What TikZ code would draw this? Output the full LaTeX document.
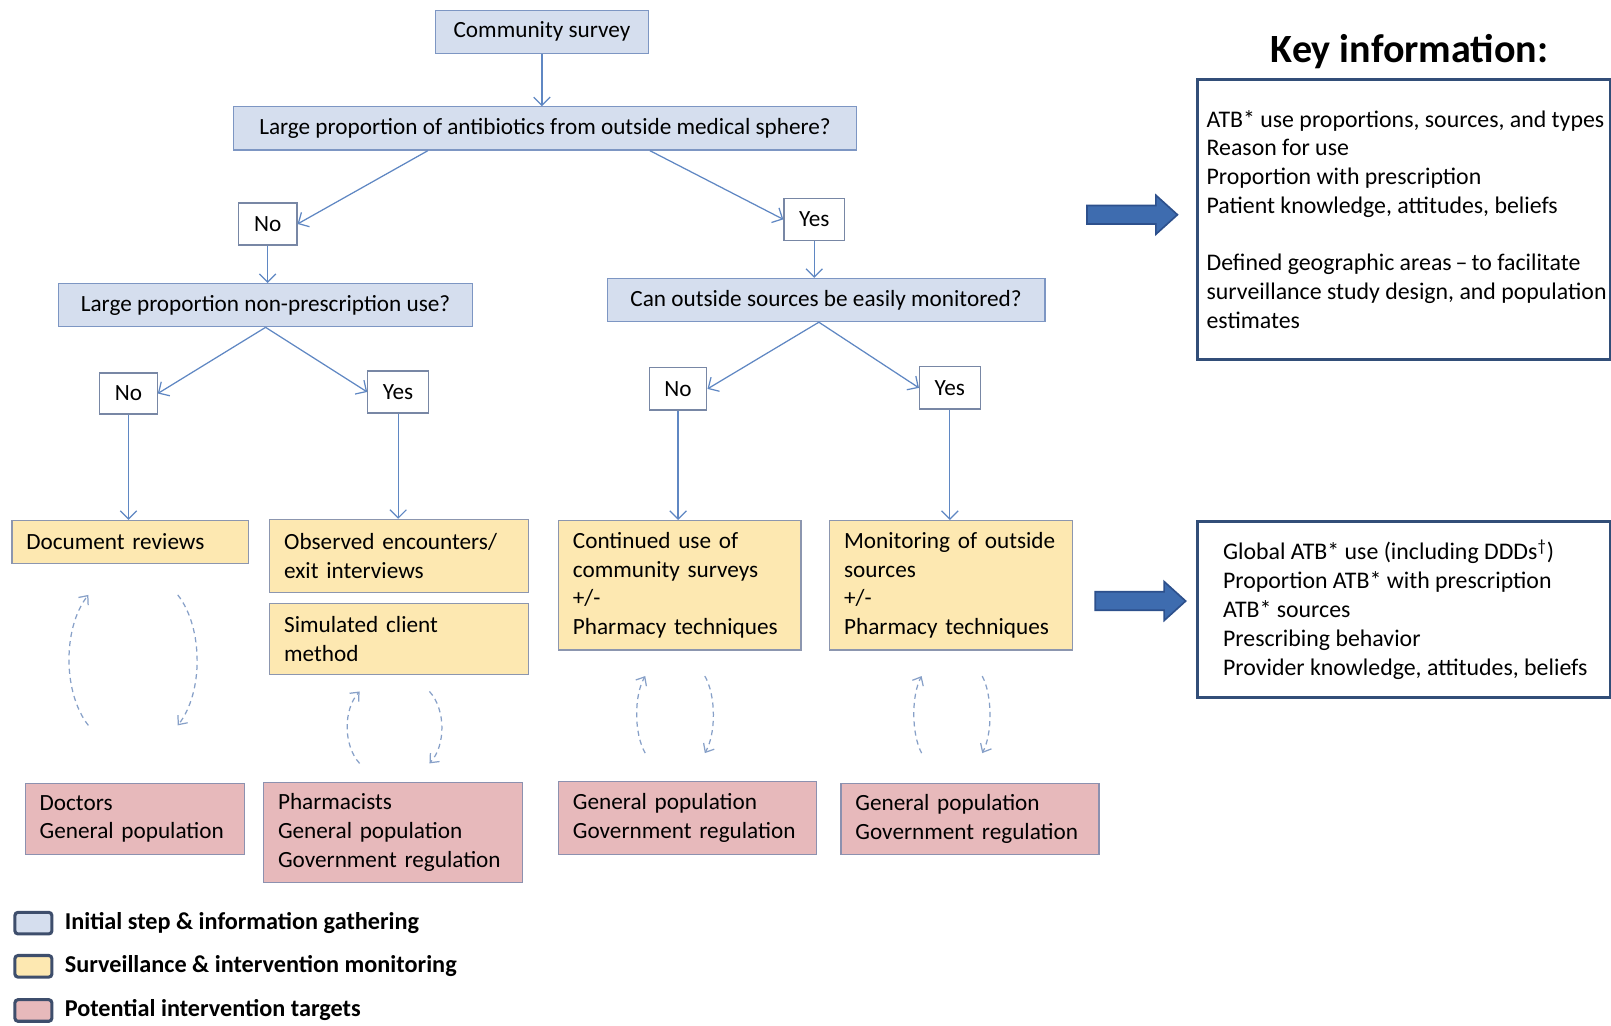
\documentclass[tikz,border=0pt]{standalone}
\usepackage{fontspec}
\setmainfont{Carlito}
\usepackage{xcolor}
\usepackage{tikz}
\usetikzlibrary{positioning,arrows.meta}

\definecolor{initfill}{RGB}{213,222,238}
\definecolor{initline}{RGB}{125,150,195}
\definecolor{ansline}{RGB}{120,135,165}
\definecolor{monfill}{RGB}{253,232,177}
\definecolor{monline}{RGB}{140,150,175}
\definecolor{tarfill}{RGB}{231,185,187}
\definecolor{tarline}{RGB}{140,145,175}
\definecolor{connblue}{RGB}{95,135,195}
\definecolor{dashblue}{RGB}{135,160,200}
\definecolor{arrowfill}{RGB}{62,108,175}
\definecolor{arrowline}{RGB}{45,80,140}
\definecolor{keyline}{RGB}{50,78,120}
\definecolor{legline}{RGB}{62,78,108}

\newcommand{\boxfont}{\fontsize{11.3}{14}\selectfont}
\newcommand{\keyfont}{\fontsize{11.6}{14}\selectfont}

\begin{document}
\begin{tikzpicture}[x=0.5pt, y=-0.5pt, font=\boxfont, >={Straight Barb[length=4pt,width=8pt]}]
    \tikzstyle{initial} = [rectangle, draw=initline, fill=initfill, line width=0.6pt, minimum height=21pt, text centered]
    \tikzstyle{answer} = [rectangle, draw=ansline, fill=white, line width=0.6pt, minimum width=28.5pt, minimum height=20.5pt]
    \tikzstyle{monitor} = [rectangle, draw=monline, fill=monfill, line width=0.6pt, anchor=north west, align=left, inner xsep=7pt]
    \tikzstyle{target} = [rectangle, draw=tarline, fill=tarfill, line width=0.6pt, anchor=north west, align=left, inner xsep=7pt]
    \tikzstyle{keybox} = [rectangle, draw=keyline, line width=1.5pt, anchor=north west, minimum width=201pt]
    \tikzstyle{keytext} = [anchor=west, align=left, inner sep=0pt, font=\keyfont]
    \tikzstyle{conn} = [->, draw=connblue, line width=0.6pt]
    \tikzstyle{cycarrow} = [->, draw=dashblue, line width=0.6pt, dash pattern=on 2.5pt off 2pt, >={Straight Barb[length=3.5pt,width=6pt]}]
    \tikzstyle{bigarrow} = [fill=arrowfill, draw=arrowline, line width=0.8pt]
    \tikzstyle{legbox} = [rectangle, rounded corners=1.5pt, draw=legline, line width=1.5pt, minimum width=18pt, minimum height=10.5pt]
    \tikzstyle{legtext} = [font=\fontsize{11.8}{13}\selectfont\bfseries]

    \useasboundingbox[fill=white] (0,0) rectangle (1568,998);

    % Decision tree
    \node [initial, minimum width=103.5pt] (survey) at (527.5,31) {Community survey};
    \node [initial, minimum width=303.5pt] (outside) at (530.5,125) {Large proportion of antibiotics from outside medical sphere?};
    \node [answer] (noA) at (260.5,218) {No};
    \node [answer, minimum width=29.5pt] (yesA) at (792.5,213.5) {Yes};
    \node [initial, minimum width=201.5pt] (nonpresc) at (258.5,297) {Large proportion non-prescription use?};
    \node [initial, minimum width=213pt] (monitored) at (804,292) {Can outside sources be easily monitored?};
    \node [answer, minimum width=28pt, minimum height=20pt] (noB) at (125,383) {No};
    \node [answer, minimum width=29.5pt] (yesB) at (387.5,381.5) {Yes};
    \node [answer, minimum width=28pt] (noC) at (660,378.5) {No};
    \node [answer, minimum width=29.5pt] (yesC) at (924.5,377.5) {Yes};

    % Surveillance methods
    \node [monitor, text width=101pt, minimum height=21pt] (docrev) at (11,506) {Document reviews};
    \node [monitor, text width=112pt, minimum height=35.5pt] (observed) at (262,505) {Observed encounters/\\exit interviews};
    \node [monitor, text width=112pt, minimum height=34.5pt] (simclient) at (262,587) {Simulated client\\method};
    \node [monitor, text width=104pt, minimum height=63pt] (contsurvey) at (543,506) {Continued use of\\community surveys\\+/-\\Pharmacy techniques};
    \node [monitor, text width=104pt, minimum height=63pt] (monsources) at (807,506) {Monitoring of outside\\sources\\+/-\\Pharmacy techniques};

    % Intervention targets
    \node [target, text width=92.5pt, minimum height=34.5pt] (doctors) at (24,762) {Doctors\\General population};
    \node [target, text width=112pt, minimum height=48.5pt] (pharmacists) at (256,761) {Pharmacists\\General population\\Government regulation};
    \node [target, text width=111.5pt, minimum height=35.5pt] (genpopA) at (543,760) {General population\\Government regulation};
    \node [target, text width=111.5pt, minimum height=34.5pt] (genpopB) at (818,762) {General population\\Government regulation};

    % Connections
    \draw [conn] (survey) -- (survey |- outside.north);
    \draw [conn] ([xshift=-57pt]outside.south) -- (noA.east);
    \draw [conn] ([xshift=51pt]outside.south) -- (yesA.west);
    \draw [conn] (noA) -- (noA |- nonpresc.north);
    \draw [conn] (yesA) -- (yesA |- monitored.north);
    \draw [conn] (nonpresc.south) -- (noB.east);
    \draw [conn] (nonpresc.south) -- (yesB.west);
    \draw [conn] ([xshift=-3.5pt]monitored.south) -- (noC.east);
    \draw [conn] ([xshift=-3.5pt]monitored.south) -- (yesC.west);
    \draw [conn] (noB) -- (noB |- docrev.north);
    \draw [conn] (yesB) -- (yesB |- observed.north);
    \draw [conn] (noC) -- (noC |- contsurvey.north);
    \draw [conn] (yesC) -- (yesC |- monsources.north);

    % Feedback loops between methods and targets
    \foreach \lx/\rx/\yt/\yb/\b in {86/173/579/706/25, 350/418/673/743/16, 628/686/658/733/11, 897/956/658/733/10} {
        \draw [cycarrow] (\lx,\yb) .. controls ({\lx-\b},{\yb-0.25*(\yb-\yt)}) and ({\lx-\b},{\yt+0.25*(\yb-\yt)}) .. (\lx,\yt);
        \draw [cycarrow] (\rx,\yt) .. controls ({\rx+\b},{\yt+0.25*(\yb-\yt)}) and ({\rx+\b},{\yb-0.25*(\yb-\yt)}) .. (\rx,\yb);
    }

    % Key information
    \node [font=\fontsize{19.5}{22}\selectfont\bfseries] (keytitle) at (1372,50) {Key information:};
    \node [keybox, minimum height=136pt] (keyone) at (1164,76) {};
    \node [keytext] (keyonetext) at ([xshift=5pt]keyone.west) {ATB* use proportions, sources, and types\\Reason for use\\Proportion with prescription\\Patient knowledge, attitudes, beliefs\\[14pt]Defined geographic areas\,–\,to facilitate\\surveillance study design, and population\\estimates};
    \node [keybox, minimum height=85.5pt] (keytwo) at (1164,506) {};
    \node [keytext] (keytwotext) at ([xshift=13pt]keytwo.west) {Global ATB* use (including DDDs\textsuperscript{†})\\Proportion ATB* with prescription\\ATB* sources\\Prescribing behavior\\Provider knowledge, attitudes, beliefs};

    \foreach \ax/\ay in {1058/209, 1066/585}
        \draw [bigarrow] (\ax,\ay-9) -- ++(67,0) -- ++(0,-10) -- ++(21,19) -- ++(-21,19) -- ++(0,-10) -- ++(-67,0) -- cycle;

    % Legend
    \node [legbox, fill=initfill] (leginit) at (32.5,898.5) {};
    \node [legbox, fill=monfill] (legmon) at (32.5,940.5) {};
    \node [legbox, fill=tarfill] (legtar) at (32.5,983.5) {};
    \node [legtext, right=2pt of leginit] (leginittext) {Initial step \& information gathering};
    \node [legtext, right=2pt of legmon] (legmontext) {Surveillance \& intervention monitoring};
    \node [legtext, right=2pt of legtar] (legtartext) {Potential intervention targets};
\end{tikzpicture}
\end{document}
